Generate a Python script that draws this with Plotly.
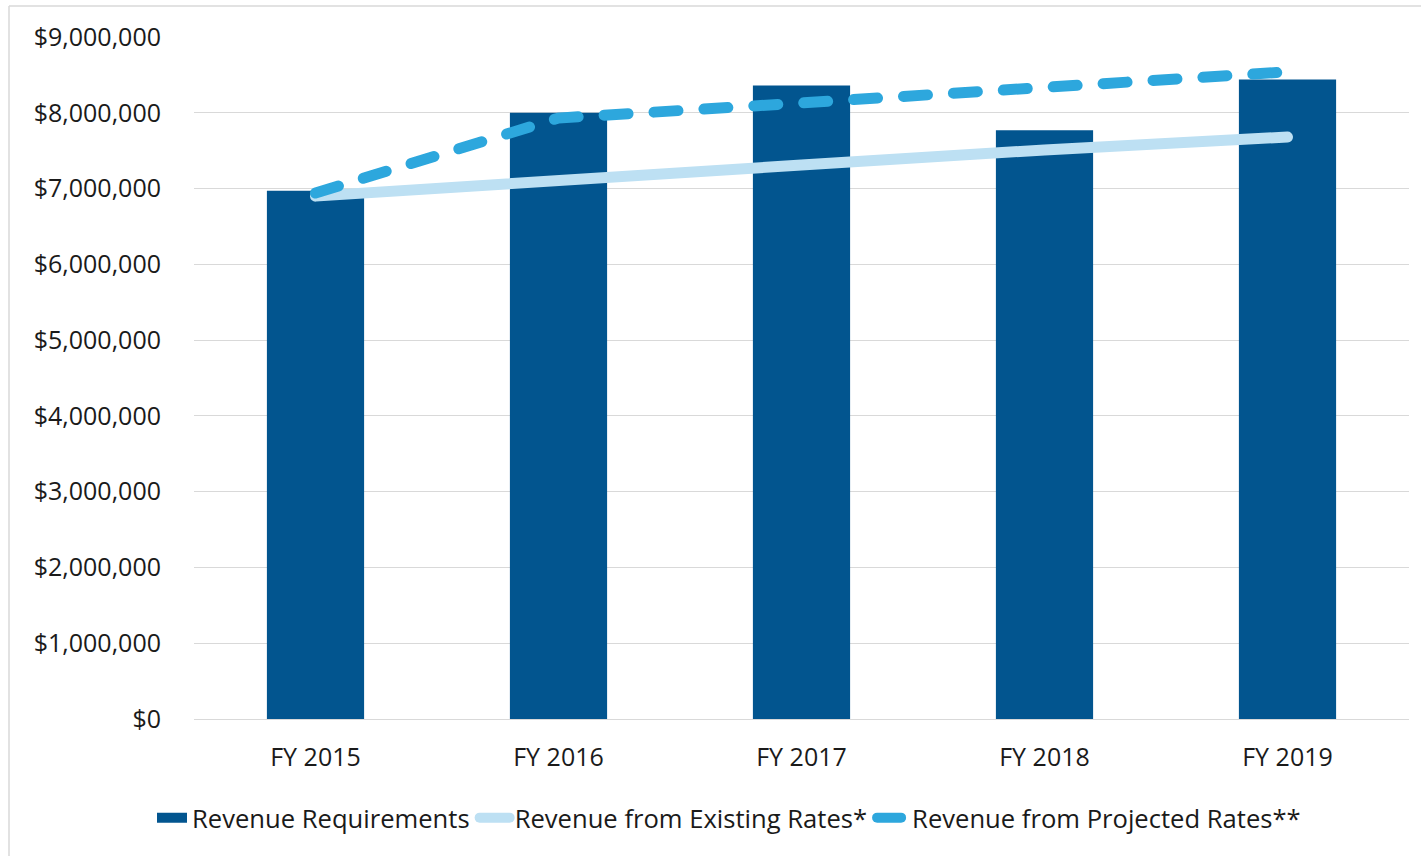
import plotly.graph_objects as go

categories = ["FY 2015", "FY 2016", "FY 2017", "FY 2018", "FY 2019"]
revenue_requirements = [6970000, 8000000, 8360000, 7770000, 8440000]
revenue_existing = [6900000, 7120000, 7310000, 7510000, 7680000]
revenue_projected = [6940000, 7930000, 8130000, 8340000, 8540000]
y_ticks = [0, 1000000, 2000000, 3000000, 4000000, 5000000, 6000000, 7000000, 8000000, 9000000]
y_tick_labels = ["$0", "$1,000,000", "$2,000,000", "$3,000,000", "$4,000,000",
                 "$5,000,000", "$6,000,000", "$7,000,000", "$8,000,000", "$9,000,000"]

FONT = "Open Sans, Noto Sans, sans-serif"
BAR_COLOR = "#02558F"

fig = go.Figure()
fig.add_trace(go.Bar(
    x=categories, y=revenue_requirements, name="Revenue Requirements",
    marker=dict(color=BAR_COLOR, line=dict(width=0)), width=0.4, showlegend=False,
))
# legend-only entry mimicking the wide bar swatch
fig.add_trace(go.Scatter(
    x=[None], y=[None], name="Revenue Requirements", mode="lines",
    line=dict(color=BAR_COLOR, width=14),
))
fig.add_trace(go.Scatter(
    x=categories, y=revenue_existing, name="Revenue from Existing Rates*",
    mode="lines", line=dict(color="#BDE0F3", width=11),
))
fig.add_trace(go.Scatter(
    x=categories, y=revenue_projected, name="Revenue from Projected Rates**",
    mode="lines", line=dict(color="#2DA7DD", width=11, dash="24px,26px"),
))

L, R, T, B = 194, 12, 37, 137
W, H = 1421, 856
pw, ph = W - L - R, H - T - B

def px_x(x):
    return (x - L) / pw

def px_y(y):
    return (H - B - y) / ph

fig.update_layout(
    width=W, height=H,
    margin=dict(l=L, r=R, t=T, b=B, autoexpand=False),
    paper_bgcolor="white", plot_bgcolor="white",
    font=dict(family=FONT, size=25, color="#1A1A1A"),
    showlegend=True,
    legend=dict(orientation="h", xref="container", yref="container",
                x=729 / W, xanchor="center", y=1 - 818 / H, yanchor="middle",
                font=dict(size=25.6, family=FONT), tracegroupgap=0,
                traceorder="normal"),
    xaxis=dict(showgrid=False, showline=False, ticks="", tickfont=dict(size=25),
               ticklabelstandoff=21),
    yaxis=dict(range=[0, 9000000], tickvals=y_ticks, ticktext=y_tick_labels,
               showgrid=True, gridcolor="#D9D9D9", gridwidth=1.2,
               zeroline=True, zerolinecolor="#D9D9D9", zerolinewidth=1.2,
               showline=False, ticks="", tickfont=dict(size=25), ticklabelstandoff=32),
    shapes=[
        dict(type="line", xref="paper", yref="paper", x0=px_x(9), x1=px_x(1425),
             y0=px_y(6), y1=px_y(6), line=dict(color="#D9D9D9", width=1.5)),
        dict(type="line", xref="paper", yref="paper", x0=px_x(9), x1=px_x(9),
             y0=px_y(6), y1=px_y(860), line=dict(color="#D9D9D9", width=1.5)),
    ],
)

fig.write_html("out.html", config={"displayModeBar": False})

# page styling: no default body margin, rounded line caps like the original
with open("out.html", "r", encoding="utf-8") as f:
    html = f.read()
css = ("<style>"
       ".scatterlayer .js-line{stroke-linecap:round;}"
       ".legend .traces .js-line{stroke-linecap:round;}"
       ".legend .traces:first-child .js-line{stroke-linecap:butt;}"
       "</style>")
html = html.replace("<body>", css + '<body style="margin:0;overflow:hidden">', 1)
with open("out.html", "w", encoding="utf-8") as f:
    f.write(html)
